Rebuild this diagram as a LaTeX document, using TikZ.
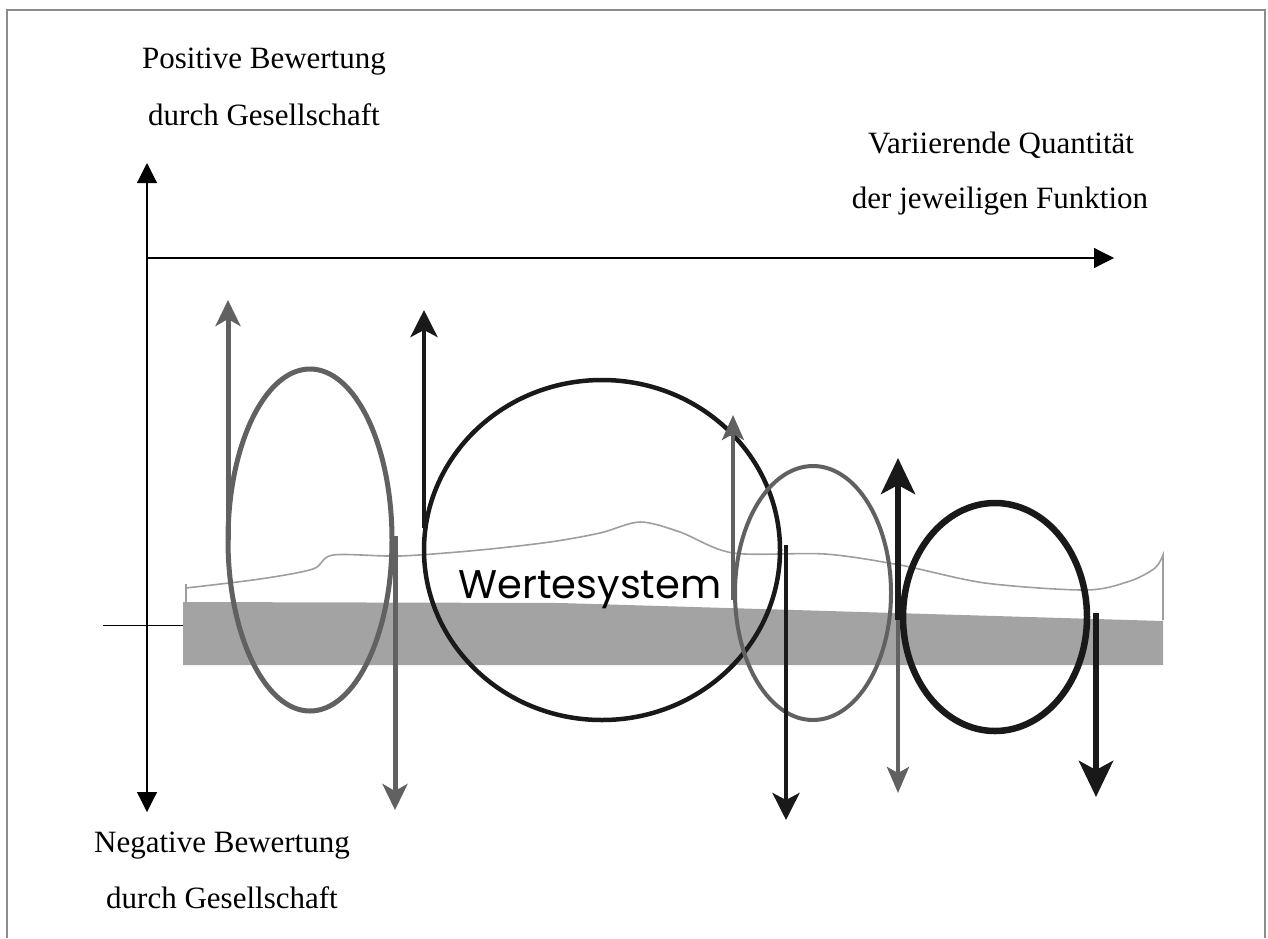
\documentclass[tikz,border=0pt]{standalone}
\usepackage{fontspec}
\setmainfont{Liberation Serif}
\newfontfamily\wertfont{Poppins}
\usetikzlibrary{arrows.meta}

\begin{document}
\begin{tikzpicture}[x=1pt,y=-1pt,
  txt/.style={font=\fontsize{31}{36}\selectfont,anchor=base,inner sep=0pt},
  axe/.style={line width=1.2pt,{Triangle[length=20pt,width=20pt]}-{Triangle[length=20pt,width=20pt]}},
  gris/.style={draw=black!62},
  noir/.style={draw=black!90},
  fgris/.style={-{Stealth[length=26pt,width=25pt,inset=7pt]}},
  fnoir/.style={-{Stealth[length=27pt,width=27pt,inset=7pt]}},
  fgros/.style={-{Stealth[length=36pt,width=34pt,inset=9pt]}}]
\useasboundingbox (0,0) rectangle (1268,938);
%cadre
\draw [black!45, line width=1.5pt] (7,938) -- (7,10) -- (1265,10) -- (1265,938);

%axes
\coordinate (o) at (147,258);
\coordinate (haut) at (147,163);
\coordinate (bas) at (147,812);
\coordinate (droite) at (1114,258);
\draw [line width=1.2pt,-{Triangle[length=20pt,width=20pt]}] (o) -- (droite);
\draw [axe] (bas) -- (haut);
\coordinate (t1) at (103,625);
\coordinate (t2) at (187,625);
\draw [line width=1pt] (t1) -- (t2);

\node [txt] (pos1) at (264,68) {Positive Bewertung};
\node [txt] (pos2) at (264,125) {durch Gesellschaft};
\node [txt] (var1) at (1001,153) {Variierende Quantität};
\node [txt] (var2) at (1000,208) {der jeweiligen Funktion};
\node [txt] (neg1) at (222,852) {Negative Bewertung};
\node [txt] (neg2) at (222,908) {durch Gesellschaft};

%bande grise et courbe
\fill [black!36] (183,602) -- (560,603) -- (1163,621) -- (1163,665) -- (183,665) -- cycle;
\draw [black!38, line width=1.6pt] (186,602) -- (186,584)
  plot [smooth, tension=0.5] coordinates {(186,588) (260,579) (313,569) (333,555) (400,556)
  (480,550) (550,542) (600,533) (640,522) (680,532) (733,553) (825,554)
  (900,565) (985,583) (1086,590) (1130,581) (1155,568) (1163,555)} -- (1163,620);

\node [font=\wertfont\fontsize{40}{44}\selectfont, anchor=base, inner sep=0pt] (wert) at (590,598) {Wertesystem};

%cercles
\draw [gris, line width=5pt] (310,540) ellipse [x radius=82, y radius=171];
\draw [noir, line width=4.5pt] (602,550) ellipse [x radius=178, y radius=170];
\draw [gris, line width=4pt] (813,593) ellipse [x radius=78, y radius=127];
\draw [noir, line width=6.5pt] (995,617) ellipse [x radius=92, y radius=114];

%fleches
\coordinate (a1) at (228,540); \coordinate (b1) at (228,300);
\coordinate (a2) at (395,536); \coordinate (b2) at (395,810);
\coordinate (a3) at (424,528); \coordinate (b3) at (424,310);
\coordinate (a4) at (733,600); \coordinate (b4) at (733,415);
\coordinate (a5) at (786,545); \coordinate (b5) at (786,820);
\coordinate (a6) at (898,600); \coordinate (b6) at (898,793);
\coordinate (a7) at (898,620); \coordinate (b7) at (898,458);
\coordinate (a8) at (1096,613); \coordinate (b8) at (1096,797);
\draw [gris, line width=5pt, fgris] (a1) -- (b1);
\draw [gris, line width=5pt, fgris] (a2) -- (b2);
\draw [noir, line width=4.5pt, fnoir] (a3) -- (b3);
\draw [gris, line width=3.5pt, -{Stealth[length=25pt,width=22pt,inset=6pt]}] (a4) -- (b4);
\draw [noir, line width=4.5pt, fnoir] (a5) -- (b5);
\draw [gris, line width=4pt, -{Stealth[length=26pt,width=22pt,inset=6pt]}] (a6) -- (b6);
\draw [noir, line width=6pt, fgros] (a7) -- (b7);
\draw [noir, line width=6.5pt, fgros] (a8) -- (b8);
\end{tikzpicture}
\end{document}
